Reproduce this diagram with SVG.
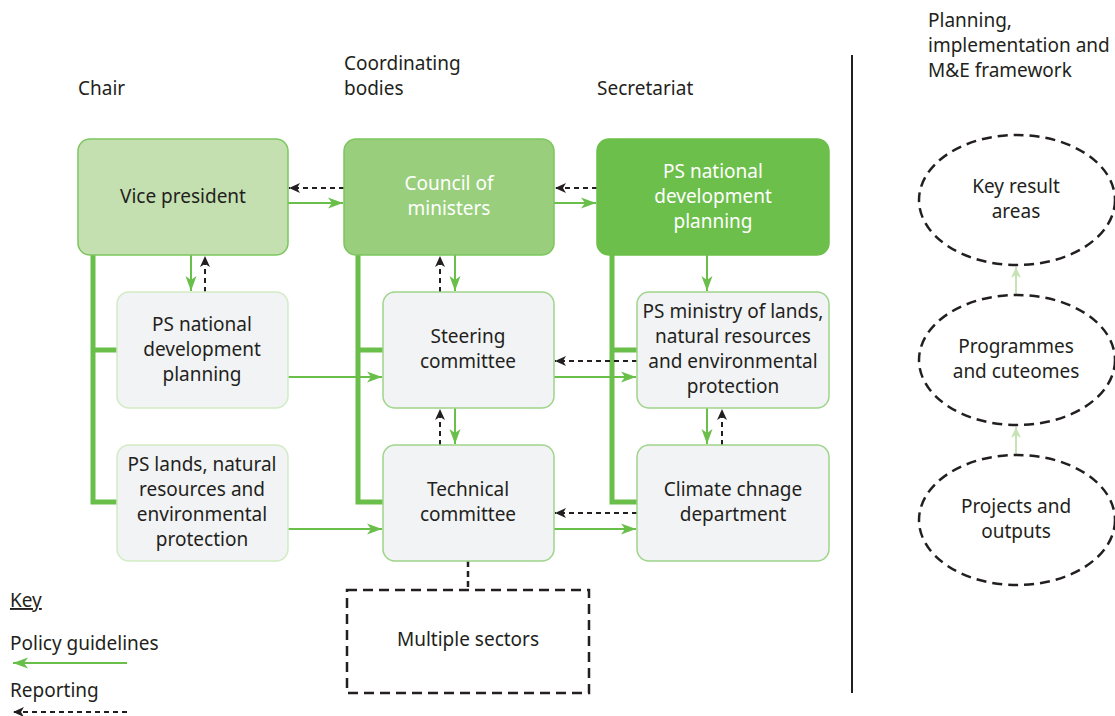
<svg xmlns="http://www.w3.org/2000/svg" width="1115" height="716" viewBox="0 0 1115 716">
<defs>
<style>
text{font-family:"Noto Sans","Open Sans","Liberation Sans",sans-serif;font-size:19px;fill:#231f20}
.c{text-anchor:middle}
.w{fill:#ffffff}
.box{fill:#f2f3f5;stroke:#9fd58a;stroke-width:1.5}
.boxl{fill:#f2f3f5;stroke:#d2ebc5;stroke-width:1.5}
.g{fill:none;stroke:#6abf4b;stroke-width:2;marker-end:url(#ag)}
.d{fill:none;stroke:#231f20;stroke-width:2;stroke-dasharray:5 4;marker-end:url(#ad)}
.thick{fill:none;stroke:#6abf4b;stroke-width:5}
.dash{fill:none;stroke:#231f20;stroke-width:2.5;stroke-dasharray:10 6}
.lg{fill:none;stroke:#c5e3b5;stroke-width:2;marker-end:url(#al)}
</style>
<marker id="ag" markerUnits="userSpaceOnUse" markerWidth="16" markerHeight="12" refX="15" refY="6" orient="auto"><path d="M0,0.5 L15,6 L0,11.5 L4,6 z" fill="#6abf4b"/></marker>
<marker id="ad" markerUnits="userSpaceOnUse" markerWidth="12" markerHeight="10" refX="11" refY="5" orient="auto"><path d="M0,0 L11,5 L0,10 L3,5 z" fill="#231f20"/></marker>
<marker id="al" markerUnits="userSpaceOnUse" markerWidth="12" markerHeight="10" refX="11" refY="5" orient="auto"><path d="M0,0 L11,5 L0,10 L3,5 z" fill="#c5e3b5"/></marker>
</defs>

<g id="headers">
<text x="78" y="95">Chair</text>
<text x="344" y="70">Coordinating</text>
<text x="344" y="95">bodies</text>
<text x="597" y="95">Secretariat</text>
<text x="928" y="27">Planning,</text>
<text x="928" y="52">implementation and</text>
<text x="928" y="77">M&amp;E framework</text>
</g>

<g id="connectors">
<path class="thick" d="M93,255 V502 H117 M93,350 H117"/>
<path class="thick" d="M358,255 V502 H383 M358,350 H383"/>
<path class="thick" d="M612,255 V502 H637 M612,350 H637"/>
<path class="g" d="M288,203 H343"/>
<path class="d" d="M344,188 H289"/>
<path class="g" d="M554,203 H596"/>
<path class="d" d="M597,188 H555"/>
<path class="g" d="M191,255 V291"/>
<path class="d" d="M205,292 V256"/>
<path class="g" d="M455,255 V291"/>
<path class="d" d="M440,292 V256"/>
<path class="g" d="M455,408 V444"/>
<path class="d" d="M440,445 V409"/>
<path class="g" d="M707,255 V291"/>
<path class="g" d="M707,408 V444"/>
<path class="d" d="M722,445 V409"/>
<path class="g" d="M288,377 H382"/>
<path class="g" d="M288,529 H382"/>
<path class="g" d="M554,377 H636"/>
<path class="d" d="M637,361 H555"/>
<path class="g" d="M554,529 H636"/>
<path class="d" d="M637,513 H555"/>
<path d="M468,561 V590" fill="none" stroke="#231f20" stroke-width="2.5" stroke-dasharray="6 4"/>
<path class="lg" d="M1016,455 V427"/>
<path class="lg" d="M1016,295 V267"/>
</g>

<g id="vice-president">
<rect x="78" y="139" width="210" height="116" rx="12" fill="#c5e0b0" stroke="#7cc65e" stroke-width="1.5"/>
<text class="c" x="183" y="203">Vice president</text>
</g>
<g id="council">
<rect x="344" y="139" width="210" height="116" rx="12" fill="#99cf7c" stroke="#7cc65e" stroke-width="1.5"/>
<text class="c w" x="449" y="190">Council of</text>
<text class="c w" x="449" y="215">ministers</text>
</g>
<g id="ps-national-top">
<rect x="597" y="139" width="232" height="116" rx="12" fill="#6cbf4a" stroke="#6cbf4a" stroke-width="1.5"/>
<text class="c w" x="713" y="178">PS national</text>
<text class="c w" x="713" y="203">development</text>
<text class="c w" x="713" y="228">planning</text>
</g>
<g id="ps-national-left">
<rect class="boxl" x="117" y="292" width="171" height="116" rx="12"/>
<text class="c" x="202" y="331">PS national</text>
<text class="c" x="202" y="356">development</text>
<text class="c" x="202" y="381">planning</text>
</g>
<g id="steering">
<rect class="box" x="383" y="292" width="171" height="116" rx="12"/>
<text class="c" x="468" y="343">Steering</text>
<text class="c" x="468" y="368">committee</text>
</g>
<g id="ps-ministry">
<rect class="box" x="637" y="292" width="192" height="116" rx="12"/>
<text class="c" x="733" y="318">PS ministry of lands,</text>
<text class="c" x="733" y="343">natural resources</text>
<text class="c" x="733" y="368">and environmental</text>
<text class="c" x="733" y="393">protection</text>
</g>
<g id="ps-lands">
<rect class="boxl" x="117" y="445" width="171" height="116" rx="12"/>
<text class="c" x="202" y="471">PS lands, natural</text>
<text class="c" x="202" y="496">resources and</text>
<text class="c" x="202" y="521">environmental</text>
<text class="c" x="202" y="546">protection</text>
</g>
<g id="technical">
<rect class="box" x="383" y="445" width="171" height="116" rx="12"/>
<text class="c" x="468" y="496">Technical</text>
<text class="c" x="468" y="521">committee</text>
</g>
<g id="climate">
<rect class="box" x="637" y="445" width="192" height="116" rx="12"/>
<text class="c" x="733" y="496">Climate chnage</text>
<text class="c" x="733" y="521">department</text>
</g>
<g id="multiple-sectors">
<rect class="dash" x="347" y="590" width="242" height="103"/>
<text class="c" x="468" y="646">Multiple sectors</text>
</g>

<g id="separator">
<line x1="852" y1="55" x2="852" y2="693" stroke="#231f20" stroke-width="2"/>
</g>

<g id="key-result-areas">
<ellipse class="dash" cx="1017" cy="200" rx="98" ry="65"/>
<text class="c" x="1016" y="193">Key result</text>
<text class="c" x="1016" y="218">areas</text>
</g>
<g id="programmes">
<ellipse class="dash" cx="1017" cy="360" rx="98" ry="65"/>
<text class="c" x="1016" y="353">Programmes</text>
<text class="c" x="1016" y="378">and cuteomes</text>
</g>
<g id="projects">
<ellipse class="dash" cx="1017" cy="520" rx="98" ry="65"/>
<text class="c" x="1016" y="513">Projects and</text>
<text class="c" x="1016" y="538">outputs</text>
</g>

<g id="key">
<text x="10" y="607" text-decoration="underline">Key</text>
<text x="10" y="650">Policy guidelines</text>
<path class="g" d="M127,663 H13"/>
<text x="10" y="697">Reporting</text>
<path class="d" d="M127,712 H13"/>
</g>
</svg>
